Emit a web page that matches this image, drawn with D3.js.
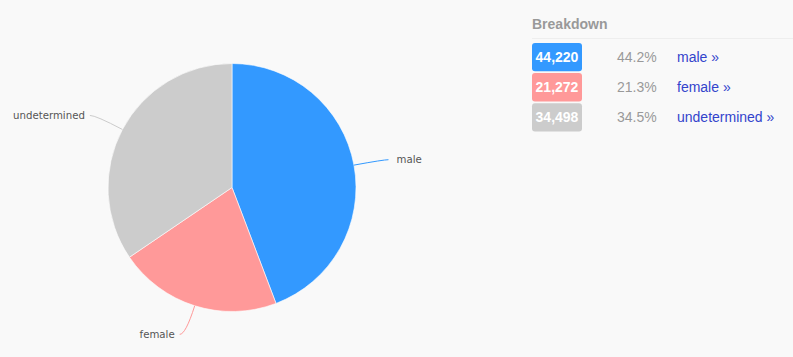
<!DOCTYPE html>
<html>
<head>
<meta charset="utf-8">
<script src="https://cdn.jsdelivr.net/npm/d3@7"></script>
<style>
  html, body { margin: 0; padding: 0; background: #f9f9f9; }
  svg { display: block; }
</style>
</head>
<body>
<svg id="chart" width="793" height="357"></svg>
<script>
const categories = ["male", "female", "undetermined"];
const values = [44220, 21272, 34498];
const colors = ["#3399ff", "#ff9999", "#cccccc"];
const legendTitle = "Breakdown";

const svg = d3.select("#chart");
const W = 793, H = 357;
svg.append("rect").attr("width", W).attr("height", H).attr("fill", "#f9f9f9");

const cx = 232, cy = 187.5, r = 124;
const total = d3.sum(values);
const data = categories.map((c, i) => ({ name: c, value: values[i], color: colors[i] }));

const pie = d3.pie().sort(null).value(d => d.value);
const arcs = pie(data);
const arc = d3.arc().innerRadius(0).outerRadius(r);

const g = svg.append("g").attr("transform", `translate(${cx},${cy})`);
g.selectAll("path.slice").data(arcs).join("path")
  .attr("class", "slice")
  .attr("d", arc)
  .attr("fill", d => d.data.color)
  .attr("stroke", "#ffffff")
  .attr("stroke-width", 0.6)
  .attr("stroke-linejoin", "round");

const polar = (a, rad) => [rad * Math.sin(a), -rad * Math.cos(a)];
arcs.forEach(d => {
  const mid = (d.startAngle + d.endAngle) / 2;
  const right = Math.sin(mid) >= 0;
  const E = polar(mid, r);
  const B = polar(mid, r + 30);
  const endX = B[0] + (right ? 5 : -6);
  const path = d3.path();
  path.moveTo(E[0], E[1]);
  path.quadraticCurveTo(B[0], B[1], endX, B[1]);
  g.append("path").attr("d", path.toString())
    .attr("fill", "none").attr("stroke", d.data.color).attr("stroke-width", 1);
  g.append("text")
    .attr("x", B[0] + (right ? 13 : -11))
    .attr("y", B[1])
    .attr("dy", "0.35em")
    .attr("text-anchor", right ? "start" : "end")
    .attr("font-family", "DejaVu Sans, sans-serif")
    .attr("font-size", 10.2)
    .attr("fill", "#555")
    .text(d.data.name);
});

// Legend
const lx = 532;
const font = "Liberation Sans, Arial, Helvetica, sans-serif";
svg.append("text").attr("x", lx).attr("y", 29)
  .attr("font-family", font).attr("font-size", 14).attr("font-weight", "bold")
  .attr("fill", "#999").text(legendTitle);
svg.append("line").attr("x1", lx).attr("x2", W).attr("y1", 38.5).attr("y2", 38.5)
  .attr("stroke", "#eeeeee").attr("stroke-width", 1);

const fmt = d3.format(",");
const rowY = d3.scaleBand().domain(categories).range([43, 131.5]).paddingInner(0.06);
const rows = svg.selectAll("g.row").data(data).join("g").attr("class", "row")
  .attr("transform", d => `translate(0,${rowY(d.name)})`);
rows.append("rect").attr("x", lx).attr("y", 0).attr("width", 50).attr("height", rowY.bandwidth())
  .attr("rx", 3).attr("fill", d => d.color);
rows.append("text").attr("x", lx + 25).attr("y", rowY.bandwidth() / 2).attr("dy", "0.36em")
  .attr("text-anchor", "middle").attr("font-family", font).attr("font-size", 14)
  .attr("font-weight", "bold").attr("fill", "#fff").text(d => fmt(d.value));
rows.append("text").attr("x", 617).attr("y", rowY.bandwidth() / 2).attr("dy", "0.36em")
  .attr("font-family", font).attr("font-size", 14).attr("fill", "#999")
  .text(d => (d.value / total * 100).toFixed(1) + "%");
rows.append("text").attr("x", 677).attr("y", rowY.bandwidth() / 2).attr("dy", "0.36em")
  .attr("font-family", font).attr("font-size", 14).attr("fill", "#3344cc")
  .text(d => d.name + " \u00bb");
</script>
</body>
</html>
